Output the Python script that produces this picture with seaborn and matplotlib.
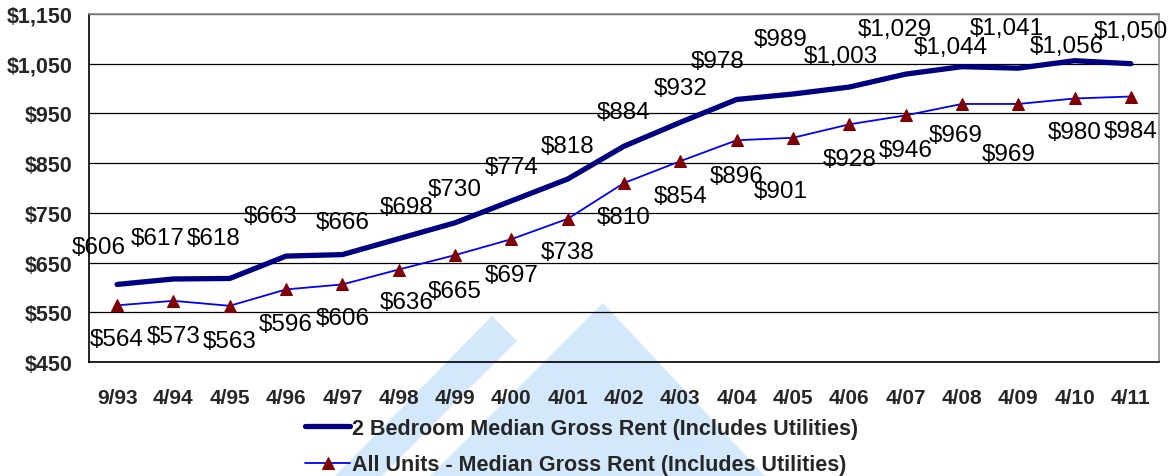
import pandas as pd
import numpy as np
import matplotlib.pyplot as plt
import seaborn as sns
from matplotlib.patches import Polygon
from matplotlib.ticker import FuncFormatter

# Datos
periodos = ['9/93', '4/94', '4/95', '4/96', '4/97', '4/98', '4/99', '4/00', '4/01', '4/02',
            '4/03', '4/04', '4/05', '4/06', '4/07', '4/08', '4/09', '4/10', '4/11']
renta_2br = [606, 617, 618, 663, 666, 698, 730, 774, 818, 884,
             932, 978, 989, 1003, 1029, 1044, 1041, 1056, 1050]
renta_todas = [564, 573, 563, 596, 606, 636, 665, 697, 738, 810,
               854, 896, 901, 928, 946, 969, 969, 980, 984]
nombre_2br = '2 Bedroom Median Gross Rent (Includes Utilities)'
nombre_todas = 'All Units - Median Gross Rent (Includes Utilities)'

# desplazamiento de etiquetas (pixeles)
off_2br = [(-18, 37), (-16, 41), (-16, 40), (-15, 40), (0, 33), (8, 32), (0, 34), (0, 34), (0, 33), (0, 34),
           (0, 34), (-19, 38), (-12, 55), (-8, 31), (-11, 45), (-11, 20), (-11, 40), (-8, 15), (0, 33)]
off_todas = [(0, -34), (0, -35), (0, -35), (0, -35), (0, -34), (8, -32), (0, -36), (0, -36), (0, -33), (0, -34),
             (0, -35), (0, -36), (-12, -53), (0, -35), (0, -35), (-6, -31), (-10, -50), (0, -34), (0, -34)]

df = pd.DataFrame({'periodo': periodos, 'dos': renta_2br, 'todas': renta_todas})
df['pos'] = np.arange(len(df))

sns.set_style('white')
plt.rcParams['font.family'] = ['Liberation Sans', 'DejaVu Sans']

fig, ax = plt.subplots(figsize=(11.75, 4.77), dpi=100)
fig.subplots_adjust(left=0.0757, right=0.9864, bottom=0.239, top=0.9686)
ax.set_facecolor('none')

# marca de agua de fondo
W, H = 1175, 477
def px(pts):
    return [(x / W, (H - y) / H) for x, y in pts]
fig.patches.append(Polygon(px([(492, 317), (517, 342), (382, 477), (335, 477)]),
                           closed=True, transform=fig.transFigure, facecolor='#d3e8fb',
                           edgecolor='none', zorder=-5))
fig.patches.append(Polygon(px([(603, 304), (765, 477), (430, 477)]),
                           closed=True, transform=fig.transFigure, facecolor='#d3e8fb',
                           edgecolor='none', zorder=-5))

sns.lineplot(data=df, x='pos', y='dos', ax=ax, color='#000080', linewidth=3.8,
             label=nombre_2br, zorder=4)
sns.lineplot(data=df, x='pos', y='todas', ax=ax, color='#0000FF', linewidth=1.3,
             marker='^', markersize=8, markerfacecolor='#800000', markeredgecolor='#800000',
             label=nombre_todas, zorder=4)

for i, v in enumerate(renta_2br):
    ax.annotate(f'${v:,}', (i, v), xytext=off_2br[i], textcoords='offset pixels',
                ha='center', va='center', fontsize=17.5, color='black', zorder=5)
for i, v in enumerate(renta_todas):
    ax.annotate(f'${v:,}', (i, v), xytext=off_todas[i], textcoords='offset pixels',
                ha='center', va='center', fontsize=17.5, color='black', zorder=5)

# ejes
ax.set_xlim(-0.5, len(periodos) - 0.5)
ax.set_ylim(450, 1150)
ax.set_yticks(np.arange(450, 1151, 100))
ax.yaxis.set_major_formatter(FuncFormatter(lambda v, p: f'${v:,.0f}'))
ax.set_xticks(np.arange(len(periodos)))
ax.set_xticklabels(periodos)
ax.set_xticks(np.arange(-0.5, len(periodos)), minor=True)
ax.tick_params(axis='x', which='major', length=0, pad=19, labelsize=15)
ax.tick_params(axis='x', which='minor', length=4.5, width=1, color='black', direction='out')
ax.tick_params(axis='y', length=4.5, width=1, color='black', direction='out', pad=7.5, labelsize=15.5)
for lbl in ax.get_xticklabels() + ax.get_yticklabels():
    lbl.set_fontweight('bold')
ax.grid(axis='y', color='black', linewidth=0.9)
ax.grid(axis='x', visible=False)
ax.set_xlabel('')
ax.set_ylabel('')

ax.spines['left'].set_color('black')
ax.spines['bottom'].set_color('black')
ax.spines['top'].set_color('#8c8c8c')
ax.spines['right'].set_color('#8c8c8c')
for s in ax.spines.values():
    s.set_linewidth(1.2)

ax.legend(loc='upper left', bbox_to_anchor=(305 / W, (H - 419) / H), bbox_transform=fig.transFigure,
          frameon=False, prop={'weight': 'bold', 'size': 15.5}, handlelength=2.1,
          handletextpad=0.1, labelspacing=0.72, borderpad=0, borderaxespad=0)

plt.savefig('out.png', dpi=100)
